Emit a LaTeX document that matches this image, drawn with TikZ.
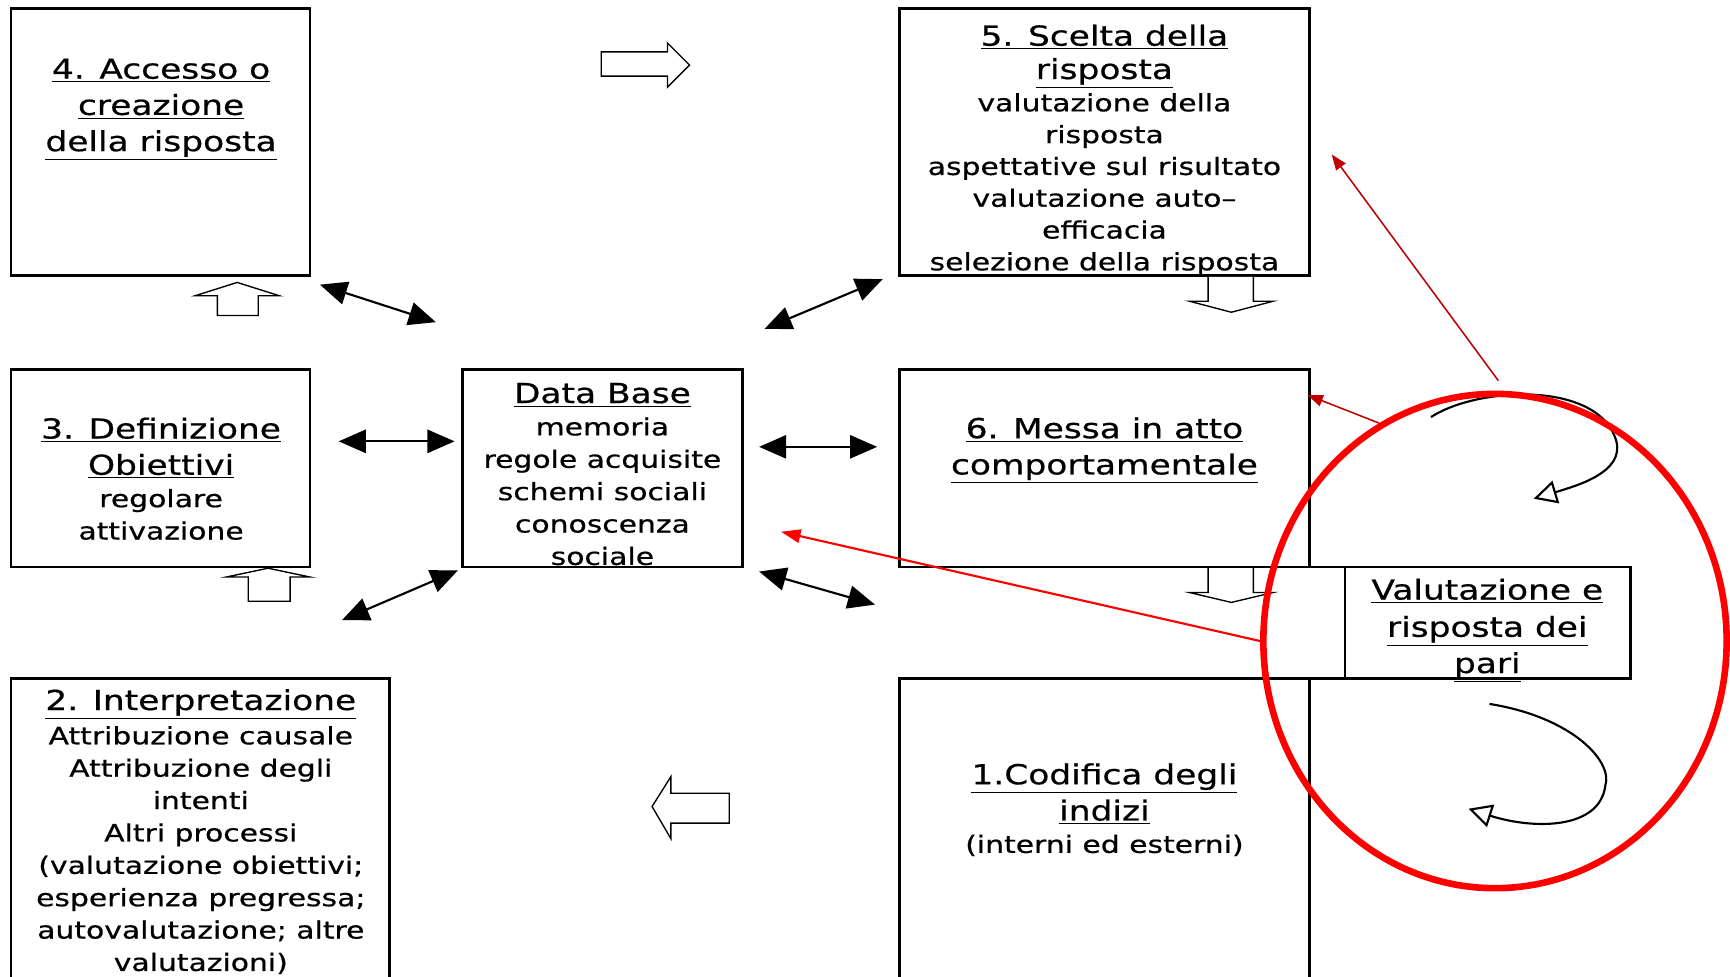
\documentclass[tikz,border=0pt]{standalone}
\usepackage{fontspec}
\setmainfont{DejaVu Sans}[FakeStretch=1.25,FakeBold=0.6]
\usetikzlibrary{arrows.meta}
\usetikzlibrary{shapes.geometric}
\definecolor{darkred}{RGB}{192,0,0}
\newcommand\ttl{\fontsize{14.2}{18.7}\selectfont}
\newcommand\bdy{\fontsize{12.3}{16.7}\selectfont}

\begin{document}
\begin{tikzpicture}[x=0.02cm,y=-0.02cm]
		\tikzstyle{every node}+=[inner sep=0pt, align=center, font=\bdy]
		\tikzstyle{box}=[black, line width=1.4pt]
		\tikzstyle{blk}=[black, line width=0.7pt, fill=white]
		\tikzstyle{dbl}=[black, line width=1.1pt, {Triangle[length=14pt,width=12pt]}-{Triangle[length=14pt,width=12pt]}]
		\tikzstyle{rdarrow}=[darkred, line width=0.8pt, -{Triangle[length=8pt,width=6pt]}]
		\tikzstyle{rarrow}=[red, line width=1.1pt, -{Triangle[length=10pt,width=7pt]}]
		\tikzstyle{curl}=[black, line width=1.1pt, -{Triangle[open,length=12pt,width=12pt]}]
		\clip (0,0) rectangle (1568,885);
		\fill [white] (0,0) rectangle (1568,885);
		\draw [box] (10,8) rectangle (281,250);
		\draw [box] (815,8) rectangle (1187,250);
		\draw [box] (10,335) rectangle (281,514);
		\draw [box] (419,335) rectangle (673,514);
		\draw [box] (815,335) rectangle (1187,514);
		\draw [box] (1187,514) -- (1478,514) -- (1478,615) -- (1187,615);
		\draw [box] (1219,514) -- (1219,615);
		\draw [box] (815,615) rectangle (1187,900);
		\draw [box] (10,615) rectangle (353,900);
		\node [anchor=base] (t4) at (146,137) {{\ttl\underline{4. Accesso o}}\\[2pt] {\ttl\underline{creazione}}\\[2pt] {\ttl\underline{della risposta}}};
		\node [anchor=base] (t5) at (1001,245) {{\ttl\underline{5. Scelta della}}\\[0.5pt] {\ttl\underline{risposta}}\\[0pt] valutazione della\\[-0.3pt] risposta\\[-0.3pt] aspettative sul risultato\\[-0.3pt] valutazione auto–\\[-0.3pt] efficacia\\[-0.3pt] selezione della risposta};
		\node [anchor=base] (t3) at (146,489) {{\ttl\underline{3. Definizione}}\\[2pt] {\ttl\underline{Obiettivi}}\\ regolare\\ attivazione};
		\node [anchor=base] (tdb) at (546,512) {{\ttl\underline{Data Base}}\\ memoria\\ regole acquisite\\ schemi sociali\\ conoscenza\\ sociale};
		\node [anchor=base] (t6) at (1001,430) {{\ttl\underline{6. Messa in atto}}\\[2pt] {\ttl\underline{comportamentale}}};
		\node [anchor=base] (tval) at (1348,610) {{\ttl\underline{Valutazione e}}\\[2.5pt] {\ttl\underline{risposta dei}}\\[2pt] {\ttl\underline{pari}}};
		\node [anchor=base] (t2) at (182,880) {{\ttl\underline{2. Interpretazione}}\\[1pt] Attribuzione causale\\ Attribuzione degli\\ intenti\\ Altri processi\\ (valutazione obiettivi;\\ esperienza pregressa;\\ autovalutazione; altre\\ valutazioni)};
		\node [anchor=base] (t1) at (1001,773) {{\ttl\underline{1.Codifica degli}}\\[2pt] {\ttl\underline{indizi}}\\ (interni ed esterni)};
		\draw [blk] (545,47) -- (605,47) -- (605,39) -- (625,59) -- (605,79) -- (605,69) -- (545,69) -- cycle;
		\draw [blk] (197,286) -- (197,268) -- (177,268) -- (215,256) -- (253,268) -- (234,268) -- (234,286) -- cycle;
		\draw [blk] (225,545) -- (225,523) -- (205,523) -- (243,515) -- (281,523) -- (263,523) -- (263,545) -- cycle;
		\draw [blk] (1095,251) -- (1095,273) -- (1078,273) -- (1116,283) -- (1154,273) -- (1136,273) -- (1136,251);
		\draw [blk] (1095,515) -- (1095,537) -- (1078,537) -- (1116,546) -- (1154,537) -- (1136,537) -- (1136,515);
		\draw [blk] (661,719) -- (608,719) -- (608,704) -- (591,731) -- (608,760) -- (608,746) -- (661,746) -- cycle;
		\coordinate (a1s) at (290,258);
		\coordinate (a1e) at (395,292);
		\coordinate (a2s) at (693,298);
		\coordinate (a2e) at (800,253);
		\coordinate (a3s) at (307,400);
		\coordinate (a3e) at (412,400);
		\coordinate (a4s) at (688,405);
		\coordinate (a4e) at (795,405);
		\coordinate (a5s) at (310,562);
		\coordinate (a5e) at (415,517);
		\coordinate (a6s) at (688,518);
		\coordinate (a6e) at (793,548);
		\draw [dbl] (a1s) -- (a1e);
		\draw [dbl] (a2s) -- (a2e);
		\draw [dbl] (a3s) -- (a3e);
		\draw [dbl] (a4s) -- (a4e);
		\draw [dbl] (a5s) -- (a5e);
		\draw [dbl] (a6s) -- (a6e);
		\coordinate (c1s) at (1297,378);
		\coordinate (c1m) at (1465,400);
		\coordinate (c1e) at (1390,452);
		\coordinate (c2s) at (1350,638);
		\coordinate (c2m) at (1455,712);
		\coordinate (c2e) at (1331,733);
		\draw [curl] (c1s) .. controls (1340,350) and (1450,345) .. (c1m) .. controls (1472,428) and (1430,440) .. (c1e);
		\draw [curl] (c2s) .. controls (1425,650) and (1462,690) .. (c2m) .. controls (1450,752) and (1390,752) .. (c2e);
		\node [ellipse, draw=red, line width=3.4pt, minimum width=239pt, minimum height=255pt] (peer) at (1355,581) {};
		\coordinate (r1e) at (1207,140);
		\coordinate (r1s) at (1358,345);
		\coordinate (r2e) at (1185,358);
		\coordinate (r3e) at (708,482);
		\draw [rdarrow] (r1s) -- (r1e);
		\draw [rdarrow] (peer.118) -- (r2e);
		\draw [rarrow] (peer.west) -- (r3e);
\end{tikzpicture}
\end{document}
